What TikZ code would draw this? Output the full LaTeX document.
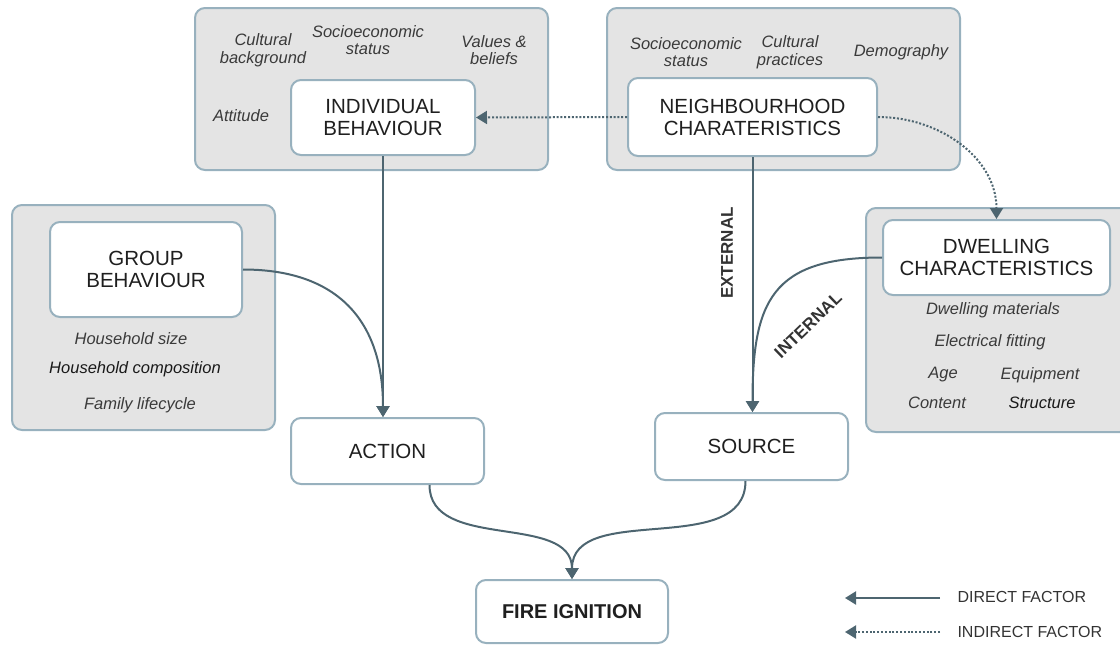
\documentclass[tikz,border=0pt]{standalone}
\usepackage{fontspec}
\setmainfont{Liberation Sans}
\usetikzlibrary{arrows.meta}
\definecolor{linecol}{HTML}{4D6570}
\definecolor{boxedge}{HTML}{98B1BE}
\definecolor{panel}{HTML}{E4E4E4}
\definecolor{note}{HTML}{3A3A3A}

\begin{document}
\begin{tikzpicture}[x=1pt,y=-1pt,
    panelbox/.style={draw=boxedge,line width=2pt,fill=panel,rounded corners=10pt,inner sep=0pt},
    factorbox/.style={draw=boxedge,line width=2pt,fill=white,rounded corners=10pt,inner sep=0pt,
      align=center,font=\fontsize{20.5}{22}\selectfont,text=black!88},
    notetext/.style={font=\fontsize{16.5}{17.5}\selectfont\itshape,text=note,align=center},
    flowlabel/.style={font=\fontsize{17}{19}\selectfont\bfseries,text=black!80},
    legendtext/.style={font=\fontsize{16}{18}\selectfont,text=black!80,anchor=west},
    direct/.style={draw=linecol,line width=2pt,-{Triangle[width=13pt,length=11pt]}},
    indirect/.style={direct,dash pattern=on 2pt off 1.8pt}]
    \useasboundingbox (0,0) rectangle (1120,645);
    % grey panels
    \node[panelbox,minimum width=353pt,minimum height=162pt] (indpanel) at (371.5,89){};
    \node[panelbox,minimum width=353pt,minimum height=162pt] (nbhpanel) at (783.5,89){};
    \node[panelbox,minimum width=263pt,minimum height=225pt] (grppanel) at (143.5,317.5){};
    \node[panelbox,minimum width=264pt,minimum height=224pt] (dwlpanel) at (998,320){};
    % factors
    \node[factorbox,minimum width=184pt,minimum height=75pt] (indbox) at (383,117.5){INDIVIDUAL\\BEHAVIOUR};
    \node[factorbox,minimum width=249pt,minimum height=78pt] (nbhbox) at (752.5,117){NEIGHBOURHOOD\\CHARATERISTICS};
    \node[factorbox,minimum width=192pt,minimum height=95pt] (grpbox) at (146,269.5){GROUP\\BEHAVIOUR};
    \node[factorbox,minimum width=227pt,minimum height=75pt] (dwlbox) at (996.5,257.5){DWELLING\\CHARACTERISTICS};
    \node[factorbox,minimum width=193pt,minimum height=66pt] (action) at (387.5,451){ACTION};
    \node[factorbox,minimum width=193pt,minimum height=67pt] (source) at (751.5,446.5){SOURCE};
    \node[factorbox,minimum width=192pt,minimum height=63pt,font=\fontsize{20}{21}\selectfont\bfseries] (fire) at (572,611.5){FIRE IGNITION};
    % sub-factors
    \node[notetext] (indcult) at (263,50){Cultural\\background};
    \node[notetext] (indsocio) at (368,40){Socioeconomic\\status};
    \node[notetext] (indvalues) at (494,50){Values \&\\beliefs};
    \node[notetext] (indatt) at (241,116){Attitude};
    \node[notetext] (nbhsocio) at (686,52){Socioeconomic\\status};
    \node[notetext] (nbhcult) at (790,52){Cultural\\practices};
    \node[notetext] (nbhdemo) at (901,52){Demography};
    \node[notetext] (grpsize) at (131,339){Household size};
    \node[notetext,text=black!90] (grpcomp) at (135,369){Household composition};
    \node[notetext] (grplife) at (140,405){Family lifecycle};
    \node[notetext] (dwlmat) at (993,310){Dwelling materials};
    \node[notetext] (dwlelec) at (990,342){Electrical fitting};
    \node[notetext] (dwlage) at (943,375){Age};
    \node[notetext] (dwlequip) at (1040,375){Equipment};
    \node[notetext] (dwlcont) at (937,403){Content};
    \node[notetext,text=black!90] (dwlstruct) at (1042,403){Structure};
    % connectors
    \draw[direct] (indbox.south) -- (indbox.south |- action.north);
    \draw[direct] (grpbox.east) to[out=0,in=90,looseness=1.2] (indbox.south |- action.north);
    \draw[direct] (nbhbox.south) -- (nbhbox.south |- source.north);
    \draw[direct] (dwlbox.west) to[out=180,in=90,looseness=1.4] (nbhbox.south |- source.north);
    \draw[indirect] (nbhbox.west) -- (indbox.east);
    \draw[indirect] (nbhbox.east) to[out=0,in=90] (dwlbox.north);
    \draw[direct] ([xshift=42pt]action.south) to[out=-90,in=90] (fire.north);
    \draw[direct] ([xshift=-6pt]source.south) to[out=-90,in=90] (fire.north);
    \node[flowlabel,rotate=90] (extlabel) at (727,253){EXTERNAL};
    \node[flowlabel,rotate=44] (intlabel) at (808,325){INTERNAL};
    % legend
    \coordinate (dirfrom) at (940,598);
    \coordinate (dirto) at (845,598);
    \coordinate (indfrom) at (940,632);
    \coordinate (indto) at (845,632);
    \draw[direct] (dirfrom) -- (dirto);
    \draw[indirect] (indfrom) -- (indto);
    \node[legendtext] (dirtext) at (954,597){DIRECT FACTOR};
    \node[legendtext] (indtext) at (954,632){INDIRECT FACTOR};
\end{tikzpicture}
\end{document}
